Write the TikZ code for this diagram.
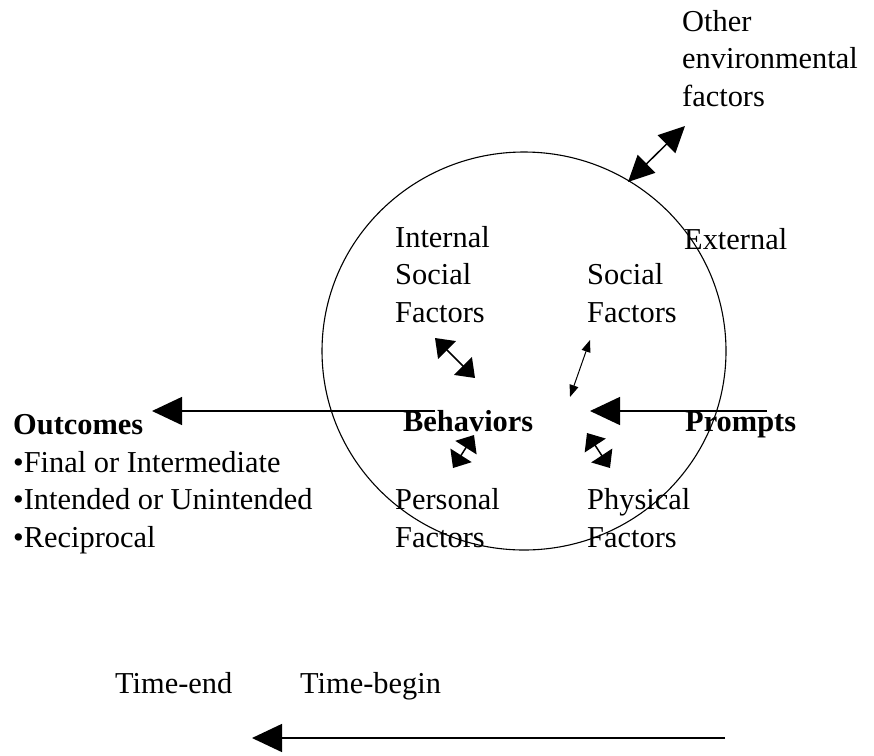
\documentclass[tikz,border=0pt]{standalone}
\usepackage{fontspec}
\setmainfont{Liberation Serif}
\usetikzlibrary{arrows.meta, positioning}
\tikzset{
    factor/.style={inner sep=0pt, anchor=base west, align=left, font=\fontsize{30.4pt}{37.5pt}\selectfont},
    keyword/.style={factor, font=\fontsize{30.4pt}{37.5pt}\selectfont\bfseries},
    bigarrow/.style={line width=1.5pt, -{Triangle[length=30pt, width=28pt]}},
    twoway/.style={line width=1.5pt, {Triangle[length=#1, width=25pt]}-{Triangle[length=#1, width=25pt]}},
    twoway/.default=17pt,
    thinway/.style={line width=1pt, {Triangle[length=12pt, width=9pt]}-{Triangle[length=12pt, width=9pt]}}
}
\begin{document}
\begin{tikzpicture}[x=1pt, y=-1pt]
    \useasboundingbox (0,0) rectangle (874,755);
    % the person's setting
    \draw[line width=1.1pt] (524,351) ellipse [x radius=202, y radius=199];

    % multi-line nodes sit on the baseline of their last line
    \node[factor] (env) at (682,106) {Other\\environmental\\factors};
    \node[factor] (internal) at (395,322) {Internal\\Social\\Factors};
    \node[factor] (external) at (684,249) {External};
    \node[factor] (social) at (587,322) {Social\\Factors};
    \node[keyword] (behaviors) at (403,431) {Behaviors};
    \node[keyword] (prompts) at (685,431) {Prompts};
    \node[factor] (personal) at (395,547) {Personal\\Factors};
    \node[factor] (physical) at (587,547) {Physical\\Factors};
    \node[factor] (outcomes) at (13,547) {\textbf{Outcomes}\\•Final or Intermediate\\•Intended or Unintended\\•Reciprocal};
    \node[factor] (tend) at (115,693) {Time-end};
    \node[factor] (tbegin) at (300,693) {Time-begin};

    % arrow ends
    \coordinate (envIn) at (628,182);
    \coordinate (envOut) at (685,126);
    \coordinate (intTop) at (435,338);
    \coordinate (intBot) at (475,378);
    \coordinate (socTop) at (590,340);
    \coordinate (socBot) at (570,397);
    \coordinate (perTop) at (474,435);
    \coordinate (perBot) at (453,468);
    \coordinate (phyTop) at (587,433);
    \coordinate (phyBot) at (610,468);
    \coordinate (behOut) at (435,411);
    \coordinate (outTip) at (152,411);
    \coordinate (prmIn) at (767,411);
    \coordinate (prmTip) at (590,411);
    \coordinate (timeBegin) at (725,738);
    \coordinate (timeEnd) at (252,738);

    \draw[twoway=26pt] (envIn) -- (envOut);
    \draw[twoway] (intTop) -- (intBot);
    \draw[thinway] (socTop) -- (socBot);
    \draw[twoway=15pt] (perTop) -- (perBot);
    \draw[twoway=15pt] (phyTop) -- (phyBot);
    \draw[bigarrow] (behOut) -- (outTip);
    \draw[bigarrow] (prmIn) -- (prmTip);
    \draw[bigarrow] (timeBegin) -- (timeEnd);
\end{tikzpicture}
\end{document}
